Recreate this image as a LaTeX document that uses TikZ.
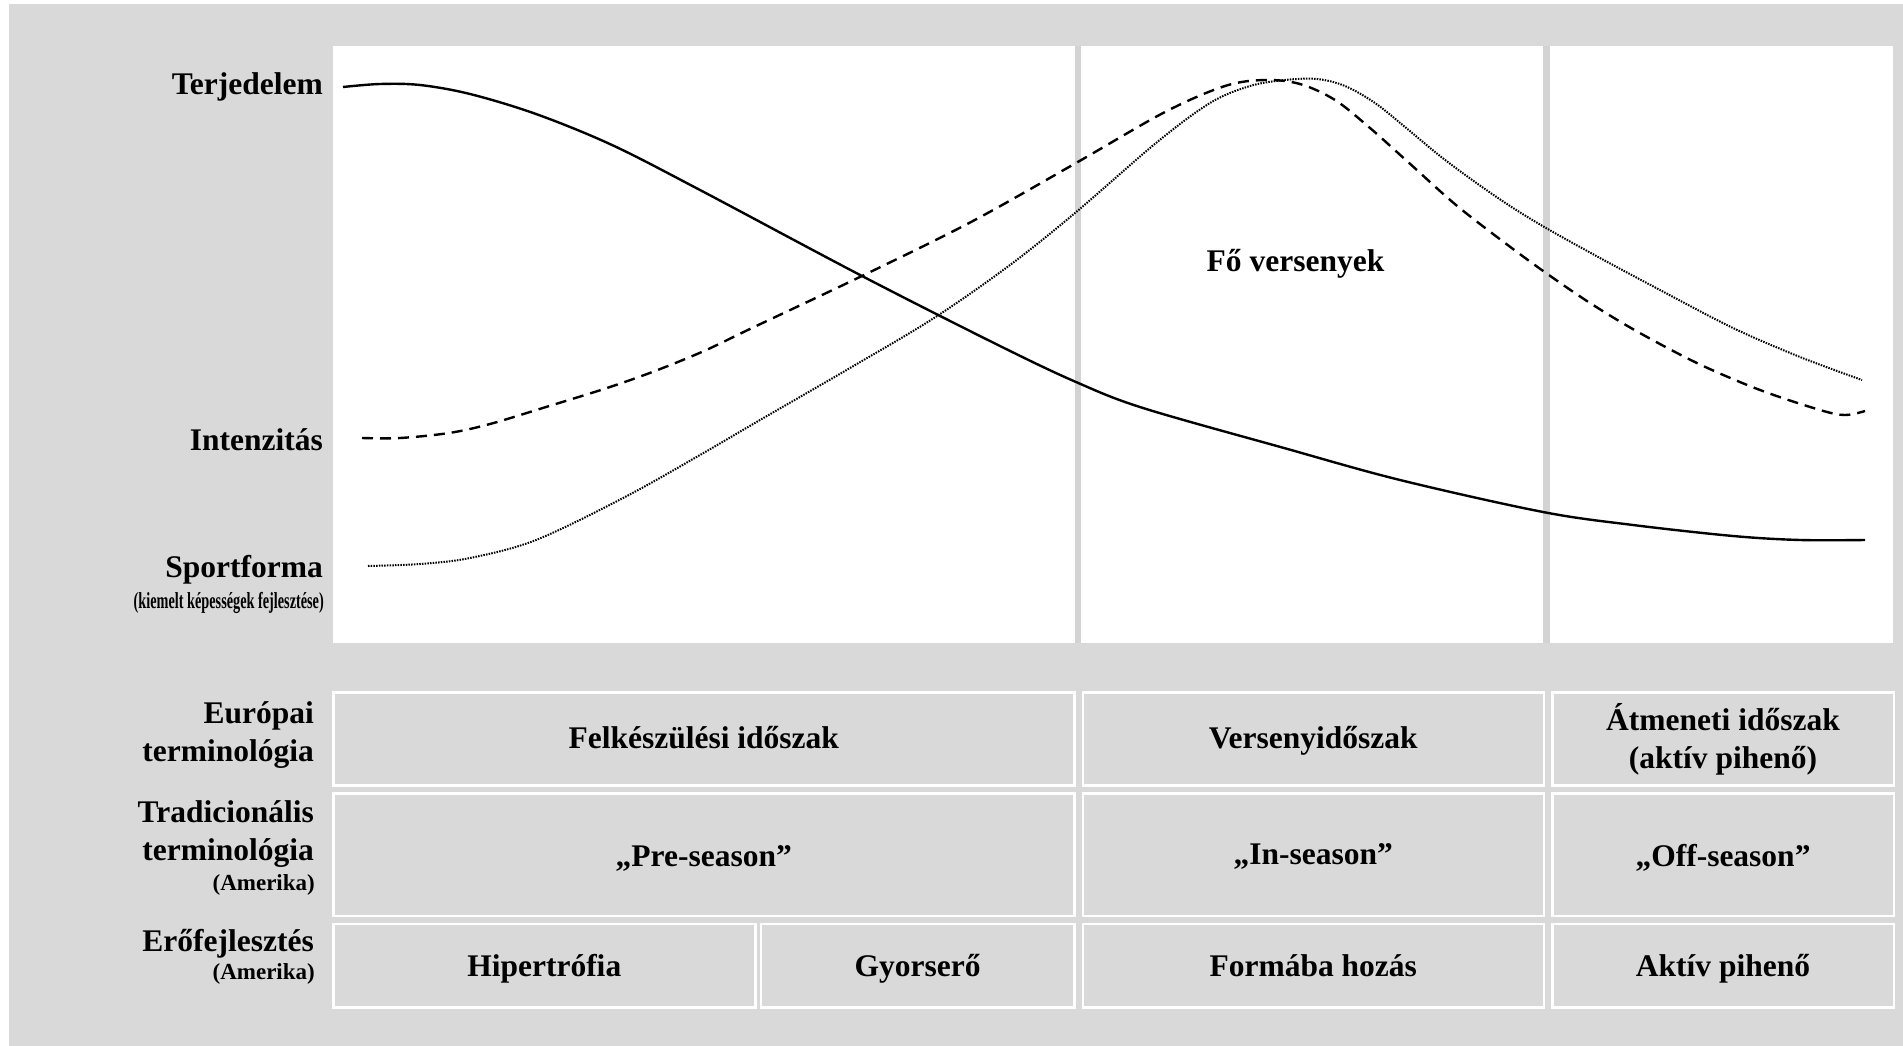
\documentclass[tikz,border=0pt]{standalone}
\usepackage{fontspec}
\setmainfont{Liberation Serif}
\newfontfamily\narrowserif[FakeStretch=0.62]{Liberation Serif}
\definecolor{bggray}{HTML}{D9D9D9}
\definecolor{sepgray}{HTML}{D3D3D3}
\newcommand\mainlbl{\fontsize{31.5}{38.5}\selectfont\bfseries}
\newcommand\smalllbl{\fontsize{23}{26}\selectfont\bfseries}
\newcommand\narrowlbl{\narrowserif\fontsize{23}{26}\selectfont\bfseries}
\begin{document}
\begin{tikzpicture}[x=1pt,y=-1pt,
  rowlbl/.style={anchor=base east, inner sep=0pt, font=\mainlbl},
  sublbl/.style={anchor=base east, inner sep=0pt, font=\smalllbl},
  celltext/.style={anchor=base, inner sep=0pt, font=\mainlbl},
  cellbox/.style={draw=white, line width=2.5pt, fill=bggray, inner sep=0pt, anchor=north west},
  volume/.style={line width=2.4pt, black},
  intensity/.style={line width=2.4pt, black, dash pattern=on 11pt off 7pt},
  form/.style={line width=2pt, black, dash pattern=on 1.5pt off 1.2pt},
]
\useasboundingbox (0,0) rectangle (1903,1046);
% canvas and chart panel
\fill[white] (0,0) rectangle (1903,1046);
\fill[bggray] (9,4) rectangle (1903,1046);
\fill[white] (332.5,46.5) rectangle (1893.3,642.7);
\fill[sepgray] (1074.7,46.5) rectangle (1081,642.7);
\fill[sepgray] (1543.3,46.5) rectangle (1550,642.7);

% load curves
\draw[volume] plot[smooth, tension=0.55] coordinates {
  (343,87) (380,84) (420,85) (470,94) (536,114) (612,145) (700,190) (862,276)
  (1000,346) (1076,382) (1143,408) (1284,448) (1400,480) (1543,512)
  (1633,525) (1733,536) (1800,540) (1865,540)};
\draw[intensity] plot[smooth, tension=0.55] coordinates {
  (362,438) (400,438) (449,433) (490,424) (546,407) (607,388) (655,371)
  (704,351) (752,328) (864,275) (971,222) (1076,163) (1165,112) (1225,86)
  (1265,80) (1300,84) (1335,100) (1370,128) (1408,162) (1456,205)
  (1505,243) (1546,273) (1590,303) (1638,332) (1699,364) (1760,390)
  (1820,410) (1845,415) (1865,411)};
\draw[form] plot[smooth, tension=0.55] coordinates {
  (368,566) (420,564) (470,558) (536,540) (625,497) (700,455) (760,420)
  (850,368) (934,318) (1010,265) (1075,213) (1156,143) (1210,103)
  (1250,86) (1285,80) (1317,79) (1345,86) (1375,103) (1405,127)
  (1440,156) (1475,182) (1510,206) (1546,228) (1600,258) (1660,290)
  (1733,328) (1800,357) (1862,380)};

\node[celltext] (peak) at (1295.5,271) {Fő versenyek};

% curve labels
\node[rowlbl] (lvol) at (323,95) {Terjedelem};
\node[rowlbl] (lint) at (323,450) {Intenzitás};
\node[rowlbl] (lform) at (323,577) {Sportforma};
\node[anchor=base east, inner sep=0pt, font=\narrowlbl] (lformsub) at (324,608) {(kiemelt képességek fejlesztése)};

% table rows
\node[rowlbl] (eurA) at (314,723) {Európai};
\node[rowlbl] (eurB) at (314,761) {terminológia};
\node[rowlbl] (tradA) at (314,822) {Tradicionális};
\node[rowlbl] (tradB) at (314,860) {terminológia};
\node[sublbl] (tradC) at (315,890) {(Amerika)};
\node[rowlbl] (strA) at (314,951) {Erőfejlesztés};
\node[sublbl] (strB) at (315,979) {(Amerika)};

% table cells
\node[cellbox, minimum width=741pt, minimum height=93pt] (c11) at (332,691) {};
\node[cellbox, minimum width=461pt, minimum height=93pt] (c12) at (1081.5,691) {};
\node[cellbox, minimum width=341.5pt, minimum height=93pt] (c13) at (1551,691) {};
\node[cellbox, minimum width=741pt, minimum height=122.5pt] (c21) at (332,792) {};
\node[cellbox, minimum width=461pt, minimum height=122.5pt] (c22) at (1081.5,792) {};
\node[cellbox, minimum width=341.5pt, minimum height=122.5pt] (c23) at (1551,792) {};
\node[cellbox, minimum width=422pt, minimum height=83.5pt] (c31a) at (332,922.5) {};
\node[cellbox, minimum width=313.3pt, minimum height=83.5pt] (c31b) at (759.7,922.5) {};
\node[cellbox, minimum width=461pt, minimum height=83.5pt] (c32) at (1081.5,922.5) {};
\node[cellbox, minimum width=341.5pt, minimum height=83.5pt] (c33) at (1551,922.5) {};

% cell texts
\node[celltext] (t11) at (c11.center |- 0,748) {Felkészülési időszak};
\node[celltext] (t12) at (c12.center |- 0,748) {Versenyidőszak};
\node[celltext] (t13a) at (c13.center |- 0,730) {Átmeneti időszak};
\node[celltext] (t13b) at (c13.center |- 0,768.5) {(aktív pihenő)};
\node[celltext] (t21) at (c21.center |- 0,866) {„Pre-season”};
\node[celltext] (t22) at (c22.center |- 0,864) {„In-season”};
\node[celltext] (t23) at (c23.center |- 0,866) {„Off-season”};
\node[celltext] (t31a) at (c31a.center |- 0,976) {Hipertrófia};
\node[celltext] (t31b) at (c31b.center |- 0,976) {Gyorserő};
\node[celltext] (t32) at (c32.center |- 0,976) {Formába hozás};
\node[celltext] (t33) at (c33.center |- 0,976) {Aktív pihenő};
\end{tikzpicture}
\end{document}
